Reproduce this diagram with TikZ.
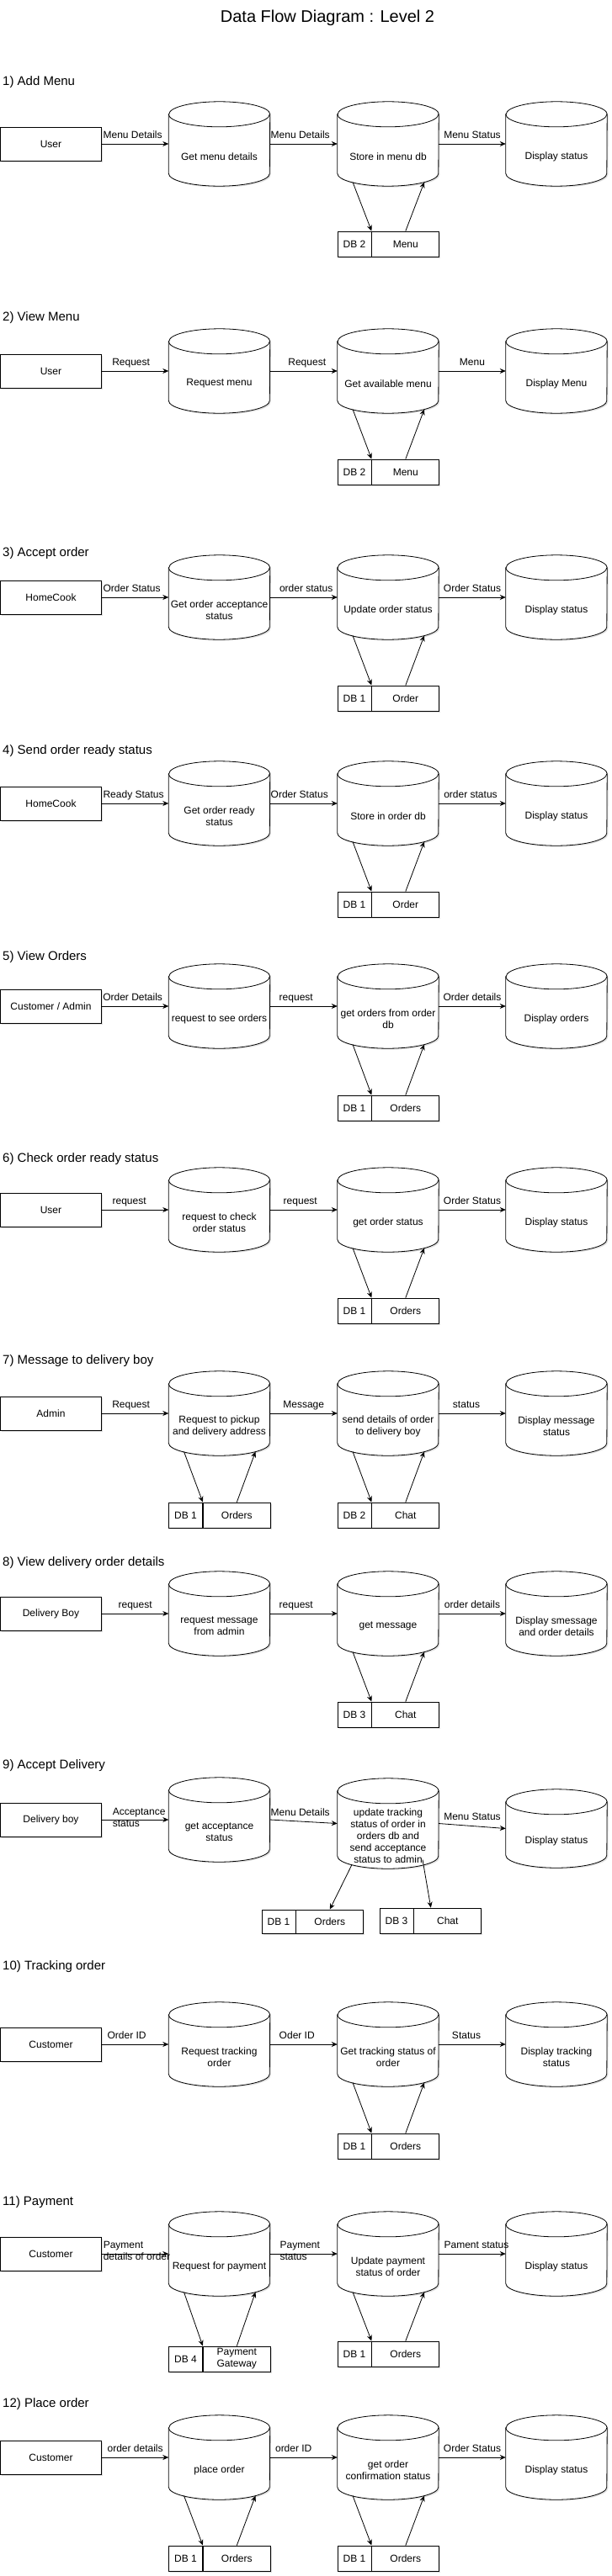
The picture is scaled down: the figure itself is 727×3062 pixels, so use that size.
\documentclass[tikz,border=0pt]{standalone}
\usepackage{fontspec}
\setmainfont{Liberation Sans}
\usetikzlibrary{arrows.meta,positioning,shadows}

\begin{document}
\begin{tikzpicture}[x=1pt, y=-1pt,
  sdw/.style={drop shadow={opacity=0.25, shadow xshift=1.5pt, shadow yshift=-1.5pt}},
  ent/.style={draw, fill=white, line width=0.8pt, minimum width=120pt, minimum height=40pt, inner sep=0pt, font=\fontsize{12}{14}\selectfont, sdw},
  proc/.style={minimum width=120pt, minimum height=#1, inner sep=0pt,
    append after command={\pgfextra{\let\cyl\tikzlastnode
      \draw[line width=0.8pt, fill=white, sdw] ([yshift=-15pt]\cyl.north west) -- ([yshift=15pt]\cyl.south west)
        arc[start angle=180, end angle=360, x radius=60pt, y radius=15pt] -- ([yshift=-15pt]\cyl.north east)
        arc[start angle=0, end angle=180, x radius=60pt, y radius=15pt] -- cycle;
      \draw[line width=0.8pt] ([yshift=-15pt]\cyl.north west) arc[start angle=180, end angle=360, x radius=60pt, y radius=15pt];}}},
  proc/.default=100pt,
  ptxt/.style={yshift=-15pt, align=center, inner sep=0pt, font=\fontsize{12}{14}\selectfont},
  dbk/.style={draw, fill=white, line width=0.8pt, minimum width=40pt, minimum height=30pt, inner sep=0pt, align=center, font=\fontsize{12}{14}\selectfont, sdw},
  dbn/.style={dbk, minimum width=80pt},
  flow/.style={-{Stealth[length=7pt,width=6pt]}, line width=0.8pt},
  lbl/.style={above=3pt, inner sep=1pt, text height=9pt, text depth=2.5pt, font=\fontsize{12}{14}\selectfont},
  lbltwo/.style={pos=0, anchor=west, align=left, inner sep=0pt, font=\fontsize{12}{14}\selectfont},
  sec/.style={anchor=base west, inner sep=0pt, font=\fontsize{15}{18}\selectfont}
]
\fill[white] (0,0) rectangle (727,3062);
\useasboundingbox (0,0) rectangle (727,3062);

\node[anchor=base, inner sep=0pt, font=\fontsize{20}{24}\selectfont] at (389,27) (title) {Data Flow Diagram : Level 2};

% 1) Add Menu
\node[sec] at (3,101) (t1) {1) Add Menu};
\node[ent] at (60.5,171) (e1) {User};
\node[proc, label={[ptxt]center:Get menu details}] at (260.5,171) (a1) {};
\node[proc, label={[ptxt]center:Store in menu db}] at (461,171) (b1) {};
\node[proc, label={[ptxt]center:Display status}] at (661,171) (c1) {};
\node[dbk] at (421,290) (k1) {DB 2};
\node[dbn, right=0pt of k1] (n1) {Menu};
\draw[flow] (e1) -- node[lbl, xshift=-3pt] {Menu Details} (a1);
\draw[flow] (a1) -- node[lbl, xshift=-4pt] {Menu Details} (b1);
\draw[flow] (b1) -- node[lbl] {Menu Status} (c1);
\draw[flow] ([xshift=-42pt, yshift=-45.5pt]b1.center) -- (k1.north east);
\draw[flow] (n1.north) -- ([xshift=43pt, yshift=-45.5pt]b1.center);

% 2) View Menu
\node[sec] at (3,381) (t2) {2) View Menu};
\node[ent] at (60.5,441) (e2) {User};
\node[proc, label={[ptxt]center:Request menu}] at (260.5,441) (a2) {};
\node[proc, label={[ptxt]center:Get available menu}] at (461,441) (b2) {};
\node[proc, label={[ptxt]center:Display Menu}] at (661,441) (c2) {};
\node[dbk] at (421,561) (k2) {DB 2};
\node[dbn, right=0pt of k2] (n2) {Menu};
\draw[flow] (e2) -- node[lbl, xshift=-5pt] {Request} (a2);
\draw[flow] (a2) -- node[lbl, xshift=4pt] {Request} (b2);
\draw[flow] (b2) -- node[lbl] {Menu} (c2);
\draw[flow] ([xshift=-42pt, yshift=-45.5pt]b2.center) -- (k2.north east);
\draw[flow] (n2.north) -- ([xshift=43pt, yshift=-45.5pt]b2.center);

% 3) Accept order
\node[sec] at (3,661) (t3) {3) Accept order};
\node[ent] at (60.5,710) (e3) {HomeCook};
\node[proc, label={[ptxt]center:{Get order acceptance\\status}}] at (260.5,710) (a3) {};
\node[proc, label={[ptxt]center:Update order status}] at (461,710) (b3) {};
\node[proc, label={[ptxt]center:Display status}] at (661,710) (c3) {};
\node[dbk] at (421,830) (k3) {DB 1};
\node[dbn, right=0pt of k3] (n3) {Order};
\draw[flow] (e3) -- node[lbl, xshift=-4pt] {Order Status} (a3);
\draw[flow] (a3) -- node[lbl, xshift=3pt] {order status} (b3);
\draw[flow] (b3) -- node[lbl] {Order Status} (c3);
\draw[flow] ([xshift=-42pt, yshift=-45.5pt]b3.center) -- (k3.north east);
\draw[flow] (n3.north) -- ([xshift=43pt, yshift=-45.5pt]b3.center);

% 4) Send order ready status
\node[sec] at (3,896) (t4) {4) Send order ready status};
\node[ent] at (60.5,955) (e4) {HomeCook};
\node[proc, label={[ptxt]center:{Get order ready\\status}}] at (260.5,955) (a4) {};
\node[proc, label={[ptxt]center:Store in order db}] at (461,955) (b4) {};
\node[proc, label={[ptxt]center:Display status}] at (661,955) (c4) {};
\node[dbk] at (421,1075) (k4) {DB 1};
\node[dbn, right=0pt of k4] (n4) {Order};
\draw[flow] (e4) -- node[lbl, xshift=-2pt] {Ready Status} (a4);
\draw[flow] (a4) -- node[lbl, xshift=-5pt] {Order Status} (b4);
\draw[flow] (b4) -- node[lbl, xshift=-2pt] {order status} (c4);
\draw[flow] ([xshift=-42pt, yshift=-45.5pt]b4.center) -- (k4.north east);
\draw[flow] (n4.north) -- ([xshift=43pt, yshift=-45.5pt]b4.center);

% 5) View Orders
\node[sec] at (3,1141) (t5) {5) View Orders};
\node[ent] at (60.5,1196) (e5) {Customer / Admin};
\node[proc, label={[ptxt]center:request to see orders}] at (260.5,1196) (a5) {};
\node[proc, label={[ptxt]center:{get orders from order\\db}}] at (461,1196) (b5) {};
\node[proc, label={[ptxt]center:Display orders}] at (661,1196) (c5) {};
\node[dbk] at (421,1317) (k5) {DB 1};
\node[dbn, right=0pt of k5] (n5) {Orders};
\draw[flow] (e5) -- node[lbl, xshift=-3pt] {Order Details} (a5);
\draw[flow] (a5) -- node[lbl, xshift=-9pt] {request} (b5);
\draw[flow] (b5) -- node[lbl] {Order details} (c5);
\draw[flow] ([xshift=-42pt, yshift=-45.5pt]b5.center) -- (k5.north east);
\draw[flow] (n5.north) -- ([xshift=43pt, yshift=-45.5pt]b5.center);

% 6) Check order ready status
\node[sec] at (3,1381) (t6) {6) Check order ready status};
\node[ent] at (60.5,1438) (e6) {User};
\node[proc, label={[ptxt]center:{request to check\\order status}}] at (260.5,1438) (a6) {};
\node[proc, label={[ptxt]center:get order status}] at (461,1438) (b6) {};
\node[proc, label={[ptxt]center:Display status}] at (661,1438) (c6) {};
\node[dbk] at (421,1558) (k6) {DB 1};
\node[dbn, right=0pt of k6] (n6) {Orders};
\draw[flow] (e6) -- node[lbl, xshift=-7pt] {request} (a6);
\draw[flow] (a6) -- node[lbl, xshift=-4pt] {request} (b6);
\draw[flow] (b6) -- node[lbl] {Order Status} (c6);
\draw[flow] ([xshift=-42pt, yshift=-45.5pt]b6.center) -- (k6.north east);
\draw[flow] (n6.north) -- ([xshift=43pt, yshift=-45.5pt]b6.center);

% 7) Message to delivery boy
\node[sec] at (3,1621) (t7) {7) Message to delivery boy};
\node[ent] at (60.5,1680) (e7) {Admin};
\node[proc, label={[ptxt]center:{Request to pickup\\and delivery address}}] at (260.5,1680) (a7) {};
\node[proc, label={[ptxt]center:{send details of order\\to delivery boy}}] at (461,1680) (b7) {};
\node[proc, label={[ptxt]center:{Display message\\status}}] at (661,1680) (c7) {};
\node[dbk] at (220.5,1801) (k7a) {DB 1};
\node[dbn, right=0pt of k7a] (n7a) {Orders};
\node[dbk] at (421,1801) (k7b) {DB 2};
\node[dbn, right=0pt of k7b] (n7b) {Chat};
\draw[flow] (e7) -- node[lbl, xshift=-5pt] {Request} (a7);
\draw[flow] (a7) -- node[lbl] {Message} (b7);
\draw[flow] (b7) -- node[lbl, xshift=-7pt] {status} (c7);
\draw[flow] ([xshift=-42pt, yshift=-45.5pt]a7.center) -- (k7a.north east);
\draw[flow] (n7a.north) -- ([xshift=43pt, yshift=-45.5pt]a7.center);
\draw[flow] ([xshift=-42pt, yshift=-45.5pt]b7.center) -- (k7b.north east);
\draw[flow] (n7b.north) -- ([xshift=43pt, yshift=-45.5pt]b7.center);

% 8) View delivery order details
\node[sec] at (3,1861) (t8) {8) View delivery order details};
\node[ent] at (60.5,1918) (e8) {Delivery Boy};
\node[proc, label={[ptxt]center:{request message\\from admin}}] at (260.5,1918) (a8) {};
\node[proc, label={[ptxt]center:get message}] at (461,1918) (b8) {};
\node[proc, label={[ptxt]center:{Display smessage\\and order details}}] at (661,1918) (c8) {};
\node[dbk] at (421,2038) (k8) {DB 3};
\node[dbn, right=0pt of k8] (n8) {Chat};
\draw[flow] (e8) -- node[lbl] {request} (a8);
\draw[flow] (a8) -- node[lbl, xshift=-9pt] {request} (b8);
\draw[flow] (b8) -- node[lbl] {order details} (c8);
\draw[flow] ([xshift=-42pt, yshift=-45.5pt]b8.center) -- (k8.north east);
\draw[flow] (n8.north) -- ([xshift=43pt, yshift=-45.5pt]b8.center);

% 9) Accept Delivery
\node[sec] at (3,2102) (t9) {9) Accept Delivery};
\node[ent] at (60.5,2163) (e9) {Delivery boy};
\node[proc, label={[ptxt]center:{get acceptance\\status}}] at (260.5,2163) (a9) {};
\node[proc=107pt, label={[ptxt]center:{update tracking\\status of order in\\orders db and\\send acceptance\\status to admin}}] at (461,2167.5) (b9) {};
\node[proc=93pt, label={[ptxt]center:Display status}] at (661,2173.5) (c9) {};
\node[dbk, minimum height=28pt] at (331,2284) (k9a) {DB 1};
\node[dbn, minimum height=28pt, right=0pt of k9a] (n9a) {Orders};
\node[dbk] at (471,2283) (k9b) {DB 3};
\node[dbn, right=0pt of k9b] (n9b) {Chat};
\draw[flow] (e9) -- node[lbltwo, xshift=12.5pt, yshift=2.5pt] {Acceptance\\status} (a9);
\draw[flow] (a9.east) -- node[lbl, xshift=-4pt] {Menu Details} (b9.west);
\draw[flow] (b9.east) -- node[lbl] {Menu Status} (c9.west);
\draw[flow] ([xshift=-43pt, yshift=-49pt]b9.center) -- (n9a.north);
\draw[flow] ([xshift=41pt, yshift=-43pt]b9.center) -- ([xshift=-20pt]n9b.north);

% 10) Tracking order
\node[sec] at (3,2341) (t10) {10) Tracking order};
\node[ent] at (60.5,2430) (e10) {Customer};
\node[proc, label={[ptxt]center:{Request tracking\\order}}] at (260.5,2430) (a10) {};
\node[proc, label={[ptxt]center:{Get tracking status of\\order}}] at (461,2430) (b10) {};
\node[proc, label={[ptxt]center:{Display tracking\\status}}] at (661,2430) (c10) {};
\node[dbk] at (421,2551) (k10) {DB 1};
\node[dbn, right=0pt of k10] (n10) {Orders};
\draw[flow] (e10) -- node[lbl, xshift=-10pt] {Order ID} (a10);
\draw[flow] (a10) -- node[lbl, xshift=-8pt] {Oder ID} (b10);
\draw[flow] (b10) -- node[lbl, xshift=-7pt] {Status} (c10);
\draw[flow] ([xshift=-42pt, yshift=-45.5pt]b10.center) -- (k10.north east);
\draw[flow] (n10.north) -- ([xshift=43pt, yshift=-45.5pt]b10.center);

% 11) Payment
\node[sec] at (3,2621) (t11) {11) Payment};
\node[ent] at (60.5,2679) (e11) {Customer};
\node[proc, label={[ptxt]center:Request for payment}] at (260.5,2679) (a11) {};
\node[proc, label={[ptxt]center:{Update payment\\status of order}}] at (461,2679) (b11) {};
\node[proc, label={[ptxt]center:Display status}] at (661,2679) (c11) {};
\node[dbk] at (220.5,2804) (k11a) {DB 4};
\node[dbn, right=0pt of k11a] (n11a) {Payment\\Gateway};
\node[dbk] at (421,2798) (k11b) {DB 1};
\node[dbn, right=0pt of k11b] (n11b) {Orders};
\draw[flow] (e11) -- node[lbltwo, xshift=1.5pt, yshift=4pt] {Payment\\details of order} (a11);
\draw[flow] (a11) -- node[lbltwo, xshift=11.5pt, yshift=4pt] {Payment\\status} (b11);
\draw[flow] (b11) -- node[lbl, xshift=5pt] {Pament status} (c11);
\draw[flow] ([xshift=-42pt, yshift=-45.5pt]a11.center) -- (k11a.north east);
\draw[flow] (n11a.north) -- ([xshift=43pt, yshift=-45.5pt]a11.center);
\draw[flow] ([xshift=-42pt, yshift=-45.5pt]b11.center) -- (k11b.north east);
\draw[flow] (n11b.north) -- ([xshift=43pt, yshift=-45.5pt]b11.center);

% 12) Place order
\node[sec] at (3,2861) (t12) {12) Place order};
\node[ent] at (60.5,2921) (e12) {Customer};
\node[proc, label={[ptxt]center:place order}] at (260.5,2921) (a12) {};
\node[proc, label={[ptxt]center:{get order\\confirmation status}}] at (461,2921) (b12) {};
\node[proc, label={[ptxt]center:Display status}] at (661,2921) (c12) {};
\node[dbk] at (220.5,3041) (k12a) {DB 1};
\node[dbn, right=0pt of k12a] (n12a) {Orders};
\node[dbk] at (421,3041) (k12b) {DB 1};
\node[dbn, right=0pt of k12b] (n12b) {Orders};
\draw[flow] (e12) -- node[lbl] {order details} (a12);
\draw[flow] (a12) -- node[lbl, xshift=-12pt] {order ID} (b12);
\draw[flow] (b12) -- node[lbl] {Order Status} (c12);
\draw[flow] ([xshift=-42pt, yshift=-45.5pt]a12.center) -- (k12a.north east);
\draw[flow] (n12a.north) -- ([xshift=43pt, yshift=-45.5pt]a12.center);
\draw[flow] ([xshift=-42pt, yshift=-45.5pt]b12.center) -- (k12b.north east);
\draw[flow] (n12b.north) -- ([xshift=43pt, yshift=-45.5pt]b12.center);
\end{tikzpicture}
\end{document}
